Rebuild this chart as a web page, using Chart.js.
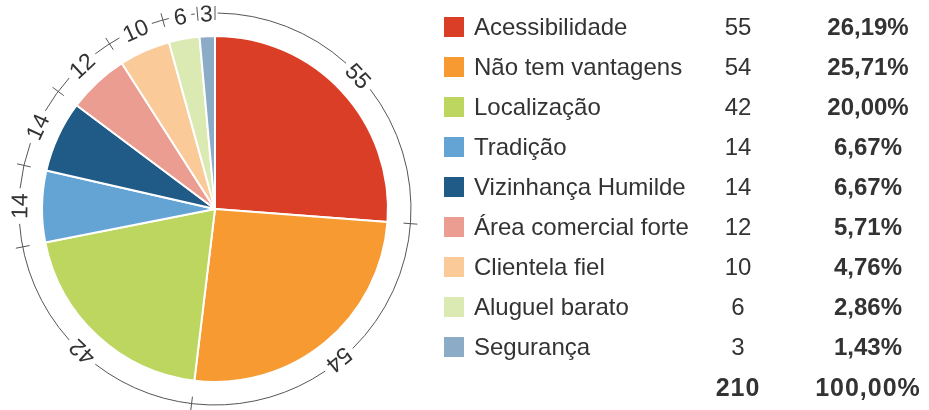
<!DOCTYPE html>
<html>
<head>
<meta charset="utf-8">
<script src="https://cdn.jsdelivr.net/npm/chart.js@4"></script>
<style>
  body { margin: 0; background: #fff; font-family: "Liberation Sans", Arial, sans-serif; color: #333; }
  #wrap { position: relative; width: 929px; height: 410px; }
  #pie { position: absolute; left: 0; top: 0; }
  .row { position: absolute; left: 0; width: 929px; height: 40px; line-height: 40px; font-size: 24px; }
  .sw { position: absolute; left: 444px; top: 10px; width: 20px; height: 20px; }
  .lbl { position: absolute; left: 474px; white-space: nowrap; }
  .val { position: absolute; left: 688px; width: 100px; text-align: center; }
  .pct { position: absolute; left: 798px; width: 140px; text-align: center; font-weight: bold; }
  .total { font-weight: bold; letter-spacing: 1px; font-size: 25px; }
</style>
</head>
<body>
<div id="wrap">
  <canvas id="pie" width="430" height="410"></canvas>
  <div id="legend"></div>
</div>
<script>
const categories = ["Acessibilidade", "Não tem vantagens", "Localização", "Tradição", "Vizinhança Humilde",
                    "Área comercial forte", "Clientela fiel", "Aluguel barato", "Segurança"];
const values = [55, 54, 42, 14, 14, 12, 10, 6, 3];
const colors = ["#db3e26", "#f79a32", "#bcd65f", "#64a4d4", "#205a87",
                "#ec9d92", "#facb99", "#dbeab3", "#8cabc6"];

const total = values.reduce((a, b) => a + b, 0);
const fmtPct = v => (v / total * 100).toFixed(2).replace('.', ',') + '%';

// legend table (html, right side)
const legend = document.getElementById('legend');
categories.forEach((name, i) => {
    const row = document.createElement('div');
    row.className = 'row';
    row.style.top = (7 + i * 40) + 'px';
    row.innerHTML = `
        <div class="sw" style="background:${colors[i]}"></div>
        <div class="lbl">${name}</div>
        <div class="val">${values[i]}</div>
        <div class="pct">${fmtPct(values[i])}</div>`;
    legend.appendChild(row);
});
const totalRow = document.createElement('div');
totalRow.className = 'row';
totalRow.style.top = (7 + categories.length * 40) + 'px';
totalRow.innerHTML = `
    <div class="val total">${total}</div>
    <div class="pct total">${fmtPct(total)}</div>`;
legend.appendChild(totalRow);

// outer ring with ticks at slice boundaries and rotated value labels
const ringPlugin = {
    id: 'ring',
    afterDatasetsDraw(chart) {
        const ctx = chart.ctx;
        const arcs = chart.getDatasetMeta(0).data;
        if (!arcs.length) return;
        const cx = arcs[0].x, cy = arcs[0].y;
        const R = arcs[0].outerRadius + 23;
        ctx.save();
        ctx.font = '23px "Liberation Sans", Arial, sans-serif';
        ctx.fillStyle = '#333';
        ctx.strokeStyle = '#555';
        ctx.lineWidth = 1;

        const gaps = arcs.map((a, i) => {
            const mid = (a.startAngle + a.endAngle) / 2;
            const w = ctx.measureText(String(values[i])).width;
            const half = (w / 2 + 5) / R;
            return { mid, from: mid - half, to: mid + half };
        });

        // arc pieces between label gaps
        gaps.forEach((g, i) => {
            const next = gaps[(i + 1) % gaps.length];
            let end = next.from;
            if (end < g.to) end += Math.PI * 2;
            ctx.beginPath();
            ctx.arc(cx, cy, R, g.to, end);
            ctx.stroke();
        });

        // ticks
        arcs.forEach(a => {
            const t = a.startAngle;
            ctx.beginPath();
            ctx.moveTo(cx + (R - 7) * Math.cos(t), cy + (R - 7) * Math.sin(t));
            ctx.lineTo(cx + (R + 7) * Math.cos(t), cy + (R + 7) * Math.sin(t));
            ctx.stroke();
        });

        // labels
        ctx.textAlign = 'center';
        ctx.textBaseline = 'middle';
        gaps.forEach((g, i) => {
            const r = R - 2;
            ctx.save();
            ctx.translate(cx + r * Math.cos(g.mid), cy + r * Math.sin(g.mid));
            ctx.rotate(g.mid + Math.PI / 2);
            ctx.fillText(String(values[i]), 0, 0);
            ctx.restore();
        });
        ctx.restore();
    }
};

new Chart(document.getElementById('pie').getContext('2d'), {
    type: 'pie',
    data: {
        labels: categories,
        datasets: [{
            data: values,
            backgroundColor: colors,
            borderColor: '#ffffff',
            borderWidth: 2
        }]
    },
    options: {
        responsive: false,
        animation: false,
        layout: { padding: { left: 41, right: 41, top: 35, bottom: 27 } },
        plugins: {
            legend: { display: false },
            tooltip: { enabled: false }
        }
    },
    plugins: [ringPlugin]
});
</script>
</body>
</html>
